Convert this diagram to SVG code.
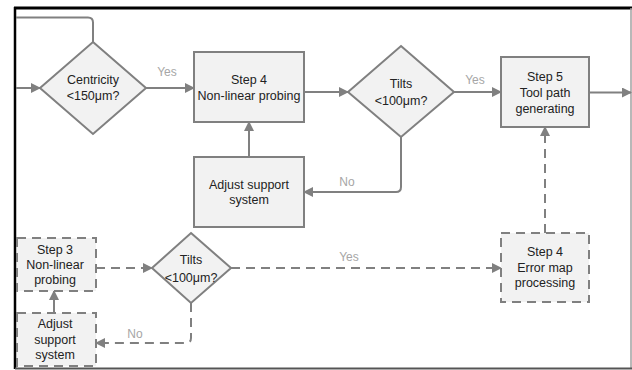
<svg xmlns="http://www.w3.org/2000/svg" width="632" height="370" viewBox="0 0 632 370">
<style>
.box{fill:#f2f2f2;stroke:#808080;stroke-width:2}
.dash{stroke-dasharray:9,6}
.ln{fill:none;stroke:#808080;stroke-width:2}
.t{font-family:"Liberation Sans",Arial,sans-serif;font-size:12.5px;fill:#222;text-anchor:middle}
.lbl{font-family:"Liberation Sans",Arial,sans-serif;font-size:12px;fill:#a6a6a6;text-anchor:middle}
</style>
<defs>
<marker id="ah" markerWidth="10" markerHeight="10" refX="9" refY="5" orient="auto" markerUnits="userSpaceOnUse">
<path d="M0,0 L10,5 L0,10 Z" fill="#808080"/>
</marker>
</defs>
<rect width="632" height="370" fill="#fff"/>
<g id="frame">
<line x1="14" y1="8" x2="632" y2="8" stroke="#000" stroke-width="3"/>
<line x1="15" y1="7" x2="15" y2="369" stroke="#000" stroke-width="2.5"/>
<line x1="631" y1="8" x2="631" y2="369" stroke="#a0a0a0" stroke-width="1.5"/>
<line x1="15" y1="368.5" x2="632" y2="368.5" stroke="#555" stroke-width="2"/>
</g>
<g id="connectors">
<path class="ln" d="M16,17.5 H88 Q93,17.5 93,22.5 V42"/>
<path class="ln" d="M16,88 H40" marker-end="url(#ah)"/>
<path class="ln" d="M146,88 H194" marker-end="url(#ah)"/>
<path class="ln" d="M304,92 H348" marker-end="url(#ah)"/>
<path class="ln" d="M454,92 H501" marker-end="url(#ah)"/>
<path class="ln" d="M589,92.5 H631" marker-end="url(#ah)"/>
<path class="ln" d="M401,137 V187 Q401,192 396,192 H304" marker-end="url(#ah)"/>
<path class="ln" d="M249,157 V122" marker-end="url(#ah)"/>
<path class="ln dash" d="M96,268 H152" marker-end="url(#ah)"/>
<path class="ln dash" d="M231,268 H501" marker-end="url(#ah)"/>
<path class="ln dash" d="M545,233 V127" marker-end="url(#ah)"/>
<path class="ln dash" d="M191,303 V338 Q191,343 186,343 H96" marker-end="url(#ah)"/>
<path class="ln" d="M54,313 V291" marker-end="url(#ah)"/>
<text class="lbl" x="167" y="76">Yes</text>
<text class="lbl" x="475" y="84">Yes</text>
<text class="lbl" x="347" y="186">No</text>
<text class="lbl" x="349" y="261">Yes</text>
<text class="lbl" x="135" y="338">No</text>
</g>
<g id="centricity">
<polygon class="box" points="93,42 146,88 93,134 40,88"/>
<text class="t" x="93" y="84">Centricity</text>
<text class="t" x="93" y="100">&lt;150μm?</text>
</g>
<g id="step4">
<rect class="box" x="194" y="52" width="110" height="70"/>
<text class="t" x="249" y="84">Step 4</text>
<text class="t" x="249" y="100">Non-linear probing</text>
</g>
<g id="tilts1">
<polygon class="box" points="401,46 454,92 401,137 348,92"/>
<text class="t" x="401" y="88">Tilts</text>
<text class="t" x="401" y="105">&lt;100μm?</text>
</g>
<g id="step5">
<rect class="box" x="501" y="57" width="88" height="70"/>
<text class="t" x="545" y="81">Step 5</text>
<text class="t" x="545" y="97">Tool path</text>
<text class="t" x="545" y="113">generating</text>
</g>
<g id="adjust1">
<rect class="box" x="194" y="157" width="110" height="70"/>
<text class="t" x="249" y="189">Adjust support</text>
<text class="t" x="249" y="204">system</text>
</g>
<g id="step3">
<rect class="box dash" x="17" y="238" width="79" height="53"/>
<text class="t" x="55" y="254">Step 3</text>
<text class="t" x="55" y="269">Non-linear</text>
<text class="t" x="55" y="284">probing</text>
</g>
<g id="tilts2">
<polygon class="box" points="191,233 231,268 191,303 152,268"/>
<text class="t" x="191" y="264">Tilts</text>
<text class="t" x="191" y="282">&lt;100μm?</text>
</g>
<g id="errormap">
<rect class="box dash" x="501" y="233" width="88" height="69"/>
<text class="t" x="545" y="256">Step 4</text>
<text class="t" x="545" y="272">Error map</text>
<text class="t" x="545" y="287">processing</text>
</g>
<g id="adjust2">
<rect class="box dash" x="17" y="313" width="79" height="53"/>
<text class="t" x="55" y="328">Adjust</text>
<text class="t" x="55" y="344">support</text>
<text class="t" x="55" y="359">system</text>
</g>
</svg>
